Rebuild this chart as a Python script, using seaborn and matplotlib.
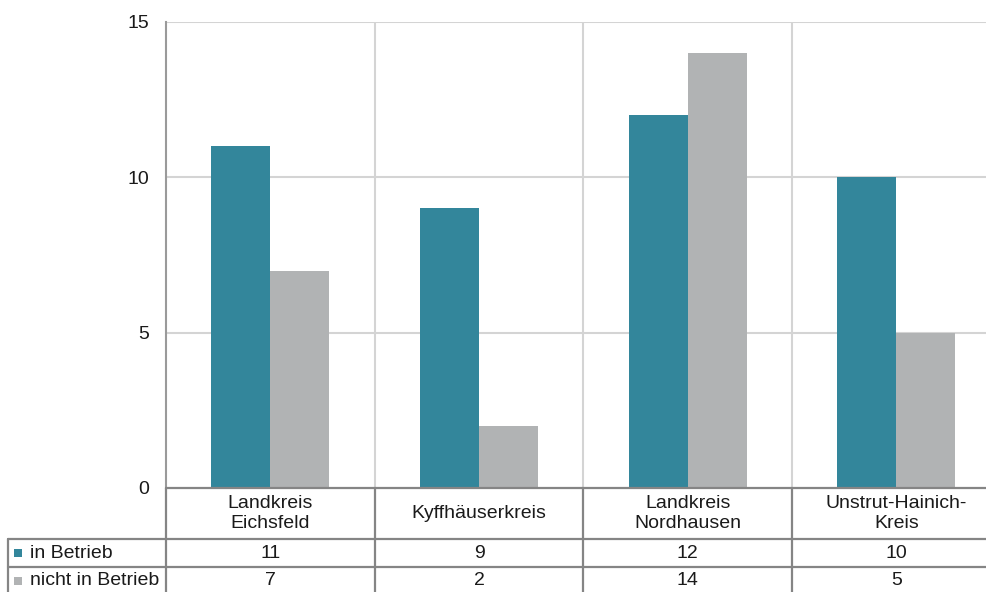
import matplotlib
matplotlib.use("Agg")
import matplotlib.pyplot as plt
import matplotlib.transforms as mtransforms
import pandas as pd
import seaborn as sns

# Windkraftanlagen je Landkreis nach Betriebsstatus
kreise = ["Landkreis\nEichsfeld", "Kyffhäuserkreis", "Landkreis\nNordhausen", "Unstrut-Hainich-\nKreis"]
in_betrieb = [11, 9, 12, 10]
nicht_in_betrieb = [7, 2, 14, 5]
serien = ["in Betrieb", "nicht in Betrieb"]
farben = ["#33869B", "#B1B3B4"]
y_ticks = [0, 5, 10, 15]

df = pd.DataFrame({
    "Kreis": kreise * 2,
    "Status": [serien[0]] * len(kreise) + [serien[1]] * len(kreise),
    "Anzahl": in_betrieb + nicht_in_betrieb,
})

sns.set_theme(style="white")
plt.rcParams["font.family"] = ["Liberation Sans", "DejaVu Sans"]
text_col = "#1A1A1A"
table_col = "#858585"
grid_col = "#D4D4D4"
fs = 14

fig = plt.figure(figsize=(9.86, 5.92), dpi=100)
W, H = 986, 592
x0, x1 = 166, 1000.7
y_top, y_bot = 22, 488
ax = fig.add_axes([x0 / W, 1 - y_bot / H, (x1 - x0) / W, (y_bot - y_top) / H])

sns.barplot(data=df, x="Kreis", y="Anzahl", hue="Status", hue_order=serien,
            palette=farben, width=0.565, gap=0, saturation=1, legend=False,
            linewidth=0, ax=ax, zorder=3)

ax.set_xlim(-0.5, 3.5)
ax.set_ylim(0, 15)
ax.set_yticks(y_ticks)
ax.set_yticklabels([str(t) for t in y_ticks], fontsize=fs, color=text_col)
ax.tick_params(axis="y", length=0, pad=12)
ax.set_xticks([])
ax.set_xlabel("")
ax.set_ylabel("")

for s in ["top", "right"]:
    ax.spines[s].set_visible(False)
ax.spines["left"].set_color("#9A9A9A")
ax.spines["left"].set_linewidth(1.5)
ax.spines["bottom"].set_visible(False)

for t in y_ticks[1:]:
    ax.axhline(t, color=grid_col, lw=1.5, zorder=1)
for b in [0.5, 1.5, 2.5]:
    ax.axvline(b, color=grid_col, lw=1.5, zorder=1)

# Datentabelle unterhalb der Achse
px = lambda y: -(y - y_bot) / (y_bot - y_top)
xa = lambda x: (x - x0) / (x1 - x0)
blend = mtransforms.blended_transform_factory(ax.transData, ax.transAxes)
r0, r1, r2, r3 = px(488), px(539), px(567), px(596)

line_kw = dict(color=table_col, lw=1.6, clip_on=False, zorder=5)
ax.plot([0, 1], [0, 0], transform=ax.transAxes, **line_kw)
ax.plot([xa(8), 1.05], [r1, r1], transform=ax.transAxes, **line_kw)
ax.plot([xa(8), 1.05], [r2, r2], transform=ax.transAxes, **line_kw)
ax.plot([xa(8), xa(8)], [r1, r3], transform=ax.transAxes, **line_kw)
ax.plot([0, 0], [r0, r3], transform=ax.transAxes, **line_kw)
for b in [0.5, 1.5, 2.5, 3.5]:
    ax.plot([b, b], [r0, r3], transform=blend, **line_kw)

for i, k in enumerate(kreise):
    ax.text(i, (r0 + r1) / 2, k, transform=blend, ha="center", va="center",
            fontsize=fs, color=text_col, linespacing=1.2, clip_on=False)
    ax.text(i, (r1 + r2) / 2, str(in_betrieb[i]), transform=blend, ha="center",
            va="center", fontsize=fs, color=text_col, clip_on=False)
    ax.text(i, (r2 + r3) / 2 + 0.002, str(nicht_in_betrieb[i]), transform=blend,
            ha="center", va="center", fontsize=fs, color=text_col, clip_on=False)

for name, col, (ra, rb) in zip(serien, farben, [(r1, r2), (r2, r3)]):
    yc = (ra + rb) / 2
    if rb == r3:
        yc += 0.002
    ax.scatter([xa(18.5)], [yc], marker="s", s=36, color=col, transform=ax.transAxes,
               clip_on=False, zorder=6, linewidths=0)
    ax.text(xa(30), yc, name, transform=ax.transAxes, ha="left", va="center",
            fontsize=fs, color=text_col, clip_on=False)

fig.savefig("out.png", dpi=100)
